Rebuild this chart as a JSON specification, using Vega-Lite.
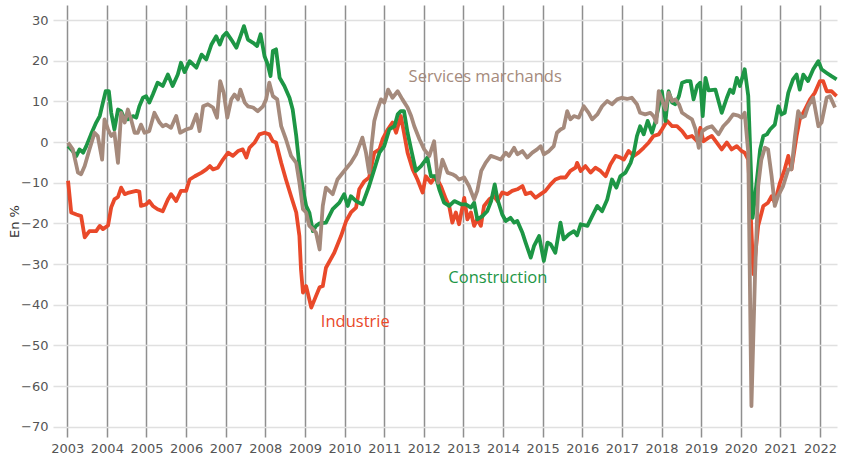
{
  "$schema": "https://vega.github.io/schema/vega-lite/v6.json",
  "width": 784,
  "height": 432,
  "autosize": {"type": "none"},
  "padding": {"left": 53, "top": 5, "right": 10, "bottom": 20},
  "background": "white",
  "config": {"view": {"stroke": null}, "font": "DejaVu Sans"},
  "datasets": {
    "industrie": [
      {"t":2003.02,"v":-9.5},{"t":2003.1,"v":-17.3},{"t":2003.23,"v":-17.8},{"t":2003.35,"v":-18.2},{"t":2003.44,"v":-23.4},{"t":2003.56,"v":-21.9},{"t":2003.73,"v":-21.9},{"t":2003.82,"v":-20.6},{"t":2003.9,"v":-21.4},{"t":2004.03,"v":-20.5},{"t":2004.11,"v":-16},{"t":2004.19,"v":-14.1},{"t":2004.28,"v":-13.5},{"t":2004.36,"v":-11.2},{"t":2004.45,"v":-12.8},{"t":2004.53,"v":-12.5},{"t":2004.61,"v":-12.3},{"t":2004.74,"v":-12},{"t":2004.82,"v":-12.2},{"t":2004.86,"v":-15.7},{"t":2004.99,"v":-15.3},{"t":2005.07,"v":-14.5},{"t":2005.16,"v":-15.7},{"t":2005.28,"v":-16.5},{"t":2005.41,"v":-17},{"t":2005.54,"v":-14.1},{"t":2005.62,"v":-12.8},{"t":2005.75,"v":-14.5},{"t":2005.87,"v":-12},{"t":2006.0,"v":-12},{"t":2006.09,"v":-9.2},{"t":2006.22,"v":-8.4},{"t":2006.39,"v":-7.5},{"t":2006.51,"v":-6.7},{"t":2006.6,"v":-5.9},{"t":2006.68,"v":-6.7},{"t":2006.8,"v":-6.3},{"t":2006.93,"v":-4.3},{"t":2007.06,"v":-2.6},{"t":2007.18,"v":-3.4},{"t":2007.31,"v":-2.2},{"t":2007.43,"v":-1.8},{"t":2007.52,"v":-3.8},{"t":2007.6,"v":-1.4},{"t":2007.73,"v":-0.1},{"t":2007.85,"v":1.9},{"t":2007.98,"v":2.3},{"t":2008.1,"v":1.9},{"t":2008.19,"v":0.2},{"t":2008.27,"v":-0.1},{"t":2008.4,"v":-5.1},{"t":2008.52,"v":-9.2},{"t":2008.65,"v":-13.3},{"t":2008.78,"v":-17.3},{"t":2008.86,"v":-23.1},{"t":2008.9,"v":-31.3},{"t":2008.95,"v":-37},{"t":2009.03,"v":-35.4},{"t":2009.16,"v":-40.7},{"t":2009.28,"v":-37.8},{"t":2009.37,"v":-35.7},{"t":2009.45,"v":-35.4},{"t":2009.53,"v":-30.9},{"t":2009.74,"v":-27.2},{"t":2009.91,"v":-23.1},{"t":2010.04,"v":-19.4},{"t":2010.16,"v":-17.3},{"t":2010.29,"v":-16.1},{"t":2010.37,"v":-11.6},{"t":2010.5,"v":-9.6},{"t":2010.62,"v":-8.7},{"t":2010.75,"v":-2.6},{"t":2010.88,"v":-1.8},{"t":2010.96,"v":0.7},{"t":2011.09,"v":3.1},{"t":2011.21,"v":4.8},{"t":2011.3,"v":2.3},{"t":2011.42,"v":6.4},{"t":2011.5,"v":2.3},{"t":2011.59,"v":-2.6},{"t":2011.72,"v":-6.7},{"t":2011.84,"v":-9.2},{"t":2011.97,"v":-12.4},{"t":2012.05,"v":-8.4},{"t":2012.18,"v":-10},{"t":2012.3,"v":-8.4},{"t":2012.43,"v":-10.8},{"t":2012.56,"v":-14.1},{"t":2012.64,"v":-15.7},{"t":2012.72,"v":-19.8},{"t":2012.81,"v":-17.3},{"t":2012.89,"v":-20.2},{"t":2013.02,"v":-13.7},{"t":2013.1,"v":-19},{"t":2013.19,"v":-17.3},{"t":2013.27,"v":-20.6},{"t":2013.35,"v":-19},{"t":2013.44,"v":-20.6},{"t":2013.52,"v":-15.7},{"t":2013.65,"v":-14.1},{"t":2013.77,"v":-13.3},{"t":2013.86,"v":-14.5},{"t":2013.98,"v":-12.4},{"t":2014.11,"v":-12.8},{"t":2014.23,"v":-12},{"t":2014.36,"v":-11.6},{"t":2014.49,"v":-10.8},{"t":2014.57,"v":-12.8},{"t":2014.7,"v":-12.4},{"t":2014.82,"v":-13.7},{"t":2014.95,"v":-12.8},{"t":2015.07,"v":-12},{"t":2015.2,"v":-10.4},{"t":2015.32,"v":-9.2},{"t":2015.45,"v":-8.7},{"t":2015.58,"v":-8.7},{"t":2015.7,"v":-7.1},{"t":2015.83,"v":-6.3},{"t":2015.87,"v":-5.1},{"t":2015.96,"v":-7.1},{"t":2016.08,"v":-5.9},{"t":2016.21,"v":-7.5},{"t":2016.33,"v":-6.3},{"t":2016.46,"v":-7.1},{"t":2016.59,"v":-8.4},{"t":2016.71,"v":-5.5},{"t":2016.84,"v":-3.4},{"t":2016.96,"v":-3.8},{"t":2017.05,"v":-4.3},{"t":2017.17,"v":-2.2},{"t":2017.3,"v":-3.4},{"t":2017.42,"v":-2.6},{"t":2017.55,"v":-1.4},{"t":2017.68,"v":-0.1},{"t":2017.8,"v":1.5},{"t":2017.93,"v":1.9},{"t":2018.01,"v":3.1},{"t":2018.14,"v":5.2},{"t":2018.27,"v":3.9},{"t":2018.39,"v":3.9},{"t":2018.52,"v":2.7},{"t":2018.64,"v":1.1},{"t":2018.77,"v":1.5},{"t":2018.9,"v":0.2},{"t":2018.98,"v":3.5},{"t":2019.06,"v":0.2},{"t":2019.19,"v":1.1},{"t":2019.27,"v":1.5},{"t":2019.39,"v":-0.1},{"t":2019.52,"v":-1.8},{"t":2019.65,"v":-0.1},{"t":2019.77,"v":-1.8},{"t":2019.9,"v":-1},{"t":2020.02,"v":-2.2},{"t":2020.1,"v":-2.6},{"t":2020.19,"v":-4.3},{"t":2020.32,"v":-32.5},{"t":2020.44,"v":-20.6},{"t":2020.57,"v":-15.7},{"t":2020.69,"v":-14.9},{"t":2020.78,"v":-13.3},{"t":2020.86,"v":-14.9},{"t":2020.99,"v":-10},{"t":2021.11,"v":-6.7},{"t":2021.2,"v":-3.4},{"t":2021.28,"v":-6.7},{"t":2021.41,"v":1.5},{"t":2021.49,"v":5.6},{"t":2021.62,"v":8},{"t":2021.75,"v":10.5},{"t":2021.87,"v":12.1},{"t":2022.0,"v":15},{"t":2022.08,"v":15},{"t":2022.17,"v":12.5},{"t":2022.29,"v":12.5},{"t":2022.42,"v":11.3}
    ],
    "construction": [
      {"t":2003.02,"v":-1},{"t":2003.1,"v":-1.8},{"t":2003.23,"v":-3.4},{"t":2003.31,"v":-1.8},{"t":2003.4,"v":-2.6},{"t":2003.48,"v":-1},{"t":2003.6,"v":1.9},{"t":2003.73,"v":4.8},{"t":2003.82,"v":6.4},{"t":2003.9,"v":9.7},{"t":2003.97,"v":12.5},{"t":2004.05,"v":12.5},{"t":2004.11,"v":7.2},{"t":2004.19,"v":3.1},{"t":2004.28,"v":8},{"t":2004.36,"v":7.6},{"t":2004.45,"v":5.6},{"t":2004.53,"v":5.6},{"t":2004.66,"v":6.4},{"t":2004.74,"v":6},{"t":2004.82,"v":8.8},{"t":2004.91,"v":10.9},{"t":2004.99,"v":11.3},{"t":2005.07,"v":9.7},{"t":2005.16,"v":11.7},{"t":2005.28,"v":14.6},{"t":2005.41,"v":13.8},{"t":2005.54,"v":16.6},{"t":2005.66,"v":13.8},{"t":2005.79,"v":16.6},{"t":2005.87,"v":19.5},{"t":2005.96,"v":17.2},{"t":2006.09,"v":19.9},{"t":2006.26,"v":18.3},{"t":2006.39,"v":21.5},{"t":2006.51,"v":20.3},{"t":2006.64,"v":24},{"t":2006.76,"v":26},{"t":2006.85,"v":24},{"t":2006.93,"v":26},{"t":2007.02,"v":26.9},{"t":2007.14,"v":25.2},{"t":2007.27,"v":23.2},{"t":2007.37,"v":26},{"t":2007.46,"v":28.5},{"t":2007.56,"v":25.2},{"t":2007.69,"v":24.4},{"t":2007.79,"v":23.6},{"t":2007.88,"v":26.5},{"t":2007.98,"v":21.1},{"t":2008.06,"v":19.1},{"t":2008.13,"v":16.2},{"t":2008.19,"v":22.4},{"t":2008.27,"v":22.8},{"t":2008.36,"v":15.8},{"t":2008.48,"v":13.8},{"t":2008.61,"v":10.9},{"t":2008.69,"v":8},{"t":2008.78,"v":1.5},{"t":2008.86,"v":-5.9},{"t":2008.95,"v":-11.6},{"t":2009.03,"v":-15.7},{"t":2009.11,"v":-17.3},{"t":2009.2,"v":-21.9},{"t":2009.28,"v":-20.6},{"t":2009.37,"v":-20},{"t":2009.53,"v":-19.8},{"t":2009.7,"v":-16.5},{"t":2009.87,"v":-14.9},{"t":2009.99,"v":-12.8},{"t":2010.08,"v":-15.7},{"t":2010.16,"v":-13.3},{"t":2010.29,"v":-14.5},{"t":2010.45,"v":-15.3},{"t":2010.62,"v":-10.8},{"t":2010.75,"v":-6.7},{"t":2010.88,"v":-2.6},{"t":2011.0,"v":-1},{"t":2011.13,"v":3.1},{"t":2011.26,"v":3.9},{"t":2011.34,"v":6.8},{"t":2011.42,"v":7.6},{"t":2011.5,"v":7.6},{"t":2011.59,"v":2.3},{"t":2011.68,"v":-1.8},{"t":2011.8,"v":-7.1},{"t":2011.93,"v":-5.9},{"t":2012.09,"v":-3.8},{"t":2012.18,"v":-8.4},{"t":2012.3,"v":-8.4},{"t":2012.39,"v":-11.6},{"t":2012.51,"v":-14.9},{"t":2012.64,"v":-15.7},{"t":2012.77,"v":-14.5},{"t":2012.94,"v":-15.3},{"t":2013.06,"v":-15.3},{"t":2013.19,"v":-16.1},{"t":2013.27,"v":-14.9},{"t":2013.35,"v":-19},{"t":2013.48,"v":-18.2},{"t":2013.6,"v":-17},{"t":2013.7,"v":-14.5},{"t":2013.79,"v":-10.4},{"t":2013.86,"v":-14.1},{"t":2013.98,"v":-17.8},{"t":2014.07,"v":-19.4},{"t":2014.19,"v":-18.6},{"t":2014.28,"v":-19.8},{"t":2014.36,"v":-19.4},{"t":2014.49,"v":-22.3},{"t":2014.57,"v":-24.7},{"t":2014.7,"v":-28.4},{"t":2014.78,"v":-25.6},{"t":2014.91,"v":-23.1},{"t":2015.03,"v":-29.2},{"t":2015.12,"v":-24.7},{"t":2015.2,"v":-25.1},{"t":2015.32,"v":-27.2},{"t":2015.45,"v":-19.8},{"t":2015.53,"v":-23.9},{"t":2015.66,"v":-22.7},{"t":2015.79,"v":-21.9},{"t":2015.87,"v":-22.9},{"t":2015.96,"v":-20.2},{"t":2016.13,"v":-20.6},{"t":2016.25,"v":-18.2},{"t":2016.38,"v":-15.7},{"t":2016.5,"v":-17},{"t":2016.63,"v":-14.1},{"t":2016.75,"v":-9.2},{"t":2016.86,"v":-11.2},{"t":2016.96,"v":-8.4},{"t":2017.09,"v":-7.5},{"t":2017.22,"v":-5.1},{"t":2017.3,"v":-2.6},{"t":2017.38,"v":1.5},{"t":2017.46,"v":3.9},{"t":2017.55,"v":1.9},{"t":2017.65,"v":5.2},{"t":2017.76,"v":2.3},{"t":2017.85,"v":5.2},{"t":2017.93,"v":8.8},{"t":2018.01,"v":12.5},{"t":2018.1,"v":5.2},{"t":2018.18,"v":12.5},{"t":2018.27,"v":9.7},{"t":2018.35,"v":9.3},{"t":2018.44,"v":11.3},{"t":2018.52,"v":14.6},{"t":2018.64,"v":15},{"t":2018.73,"v":15},{"t":2018.81,"v":10.5},{"t":2018.9,"v":13.8},{"t":2018.98,"v":14.6},{"t":2019.04,"v":6.4},{"t":2019.11,"v":15.8},{"t":2019.19,"v":12.7},{"t":2019.36,"v":12.9},{"t":2019.52,"v":7.2},{"t":2019.65,"v":10.9},{"t":2019.73,"v":12.9},{"t":2019.81,"v":12.1},{"t":2019.9,"v":15.8},{"t":2019.98,"v":13.8},{"t":2020.1,"v":17.9},{"t":2020.19,"v":11.3},{"t":2020.3,"v":-18.6},{"t":2020.4,"v":-10},{"t":2020.49,"v":-1.8},{"t":2020.57,"v":1.5},{"t":2020.66,"v":1.9},{"t":2020.74,"v":3.1},{"t":2020.86,"v":4.3},{"t":2020.95,"v":8.8},{"t":2021.03,"v":6.8},{"t":2021.11,"v":7.2},{"t":2021.2,"v":12.1},{"t":2021.32,"v":15.4},{"t":2021.41,"v":16.6},{"t":2021.49,"v":12.9},{"t":2021.58,"v":16.6},{"t":2021.7,"v":15},{"t":2021.83,"v":17.9},{"t":2021.96,"v":19.9},{"t":2022.04,"v":17.9},{"t":2022.17,"v":17},{"t":2022.29,"v":16.2},{"t":2022.42,"v":15.4}
    ],
    "services": [
      {"t":2003.02,"v":-0.1},{"t":2003.14,"v":-1.8},{"t":2003.27,"v":-7.5},{"t":2003.35,"v":-7.9},{"t":2003.44,"v":-5.9},{"t":2003.56,"v":-1.8},{"t":2003.69,"v":2.3},{"t":2003.77,"v":1.5},{"t":2003.88,"v":-4.3},{"t":2003.94,"v":5.6},{"t":2004.03,"v":3.1},{"t":2004.11,"v":1.5},{"t":2004.19,"v":2.3},{"t":2004.28,"v":-5.1},{"t":2004.36,"v":7.2},{"t":2004.45,"v":4.8},{"t":2004.53,"v":8},{"t":2004.61,"v":5.6},{"t":2004.7,"v":2.3},{"t":2004.78,"v":2.3},{"t":2004.86,"v":4.3},{"t":2004.95,"v":2.3},{"t":2005.07,"v":2.7},{"t":2005.2,"v":7.2},{"t":2005.33,"v":4.8},{"t":2005.41,"v":3.9},{"t":2005.49,"v":4.3},{"t":2005.62,"v":3.5},{"t":2005.75,"v":6.4},{"t":2005.85,"v":2.3},{"t":2006.0,"v":3.1},{"t":2006.13,"v":3.5},{"t":2006.26,"v":6.8},{"t":2006.34,"v":2.7},{"t":2006.43,"v":8.8},{"t":2006.55,"v":9.3},{"t":2006.68,"v":8.5},{"t":2006.78,"v":6},{"t":2006.86,"v":15},{"t":2006.95,"v":12.1},{"t":2007.04,"v":6},{"t":2007.14,"v":10.5},{"t":2007.22,"v":11.7},{"t":2007.31,"v":10.5},{"t":2007.37,"v":12.9},{"t":2007.48,"v":9.7},{"t":2007.56,"v":8.8},{"t":2007.69,"v":8.5},{"t":2007.81,"v":7.6},{"t":2007.94,"v":8.8},{"t":2008.02,"v":10.5},{"t":2008.1,"v":14.6},{"t":2008.19,"v":11.3},{"t":2008.3,"v":10.5},{"t":2008.4,"v":3.9},{"t":2008.52,"v":0.7},{"t":2008.65,"v":-3.4},{"t":2008.78,"v":-5.1},{"t":2008.86,"v":-10},{"t":2008.95,"v":-16.5},{"t":2009.03,"v":-17.3},{"t":2009.11,"v":-20.6},{"t":2009.2,"v":-21.4},{"t":2009.28,"v":-22.3},{"t":2009.37,"v":-26.4},{"t":2009.45,"v":-15.7},{"t":2009.53,"v":-11.2},{"t":2009.7,"v":-12.8},{"t":2009.82,"v":-9.2},{"t":2009.99,"v":-7.1},{"t":2010.16,"v":-5.1},{"t":2010.29,"v":-3},{"t":2010.37,"v":-1},{"t":2010.45,"v":1.1},{"t":2010.54,"v":-2.6},{"t":2010.62,"v":-7.5},{"t":2010.68,"v":-1},{"t":2010.75,"v":5.2},{"t":2010.83,"v":8},{"t":2010.92,"v":10.5},{"t":2011.0,"v":9.7},{"t":2011.1,"v":12.9},{"t":2011.21,"v":10.9},{"t":2011.34,"v":12.5},{"t":2011.46,"v":10.5},{"t":2011.59,"v":8.5},{"t":2011.68,"v":6.4},{"t":2011.76,"v":3.9},{"t":2011.89,"v":0.7},{"t":2012.01,"v":-1.8},{"t":2012.14,"v":-3.4},{"t":2012.26,"v":0.2},{"t":2012.36,"v":-10},{"t":2012.47,"v":-4.3},{"t":2012.6,"v":-7.5},{"t":2012.72,"v":-7.9},{"t":2012.81,"v":-8.4},{"t":2012.89,"v":-9.2},{"t":2013.02,"v":-8.7},{"t":2013.14,"v":-10.8},{"t":2013.27,"v":-14.1},{"t":2013.35,"v":-12},{"t":2013.45,"v":-7.1},{"t":2013.56,"v":-5.1},{"t":2013.69,"v":-3.4},{"t":2013.81,"v":-3.8},{"t":2013.94,"v":-4.3},{"t":2014.07,"v":-2.6},{"t":2014.15,"v":-3.4},{"t":2014.28,"v":-1.4},{"t":2014.36,"v":-3},{"t":2014.49,"v":-2.2},{"t":2014.61,"v":-3.8},{"t":2014.74,"v":-2.6},{"t":2014.86,"v":-1.8},{"t":2014.95,"v":-1},{"t":2015.03,"v":-3},{"t":2015.16,"v":-2.2},{"t":2015.28,"v":-1},{"t":2015.36,"v":2.3},{"t":2015.45,"v":3.1},{"t":2015.53,"v":3.5},{"t":2015.62,"v":7.6},{"t":2015.7,"v":5.6},{"t":2015.79,"v":6.4},{"t":2015.91,"v":6},{"t":2016.04,"v":8.8},{"t":2016.16,"v":7.2},{"t":2016.25,"v":5.6},{"t":2016.38,"v":6.8},{"t":2016.5,"v":8.8},{"t":2016.63,"v":10.1},{"t":2016.75,"v":9.3},{"t":2016.88,"v":10.5},{"t":2017.0,"v":10.9},{"t":2017.13,"v":10.6},{"t":2017.25,"v":10.9},{"t":2017.38,"v":9.3},{"t":2017.46,"v":7.2},{"t":2017.59,"v":6.8},{"t":2017.72,"v":7.2},{"t":2017.8,"v":6.4},{"t":2017.87,"v":4.8},{"t":2017.93,"v":12.5},{"t":2018.01,"v":10.5},{"t":2018.1,"v":8},{"t":2018.18,"v":12.1},{"t":2018.27,"v":10.1},{"t":2018.35,"v":10.5},{"t":2018.44,"v":9.3},{"t":2018.52,"v":7.2},{"t":2018.64,"v":6.4},{"t":2018.77,"v":5.6},{"t":2018.86,"v":3.1},{"t":2018.94,"v":-1.4},{"t":2019.03,"v":2.7},{"t":2019.15,"v":3.5},{"t":2019.27,"v":3.9},{"t":2019.44,"v":1.9},{"t":2019.56,"v":3.9},{"t":2019.69,"v":5.2},{"t":2019.81,"v":6.8},{"t":2019.94,"v":6.5},{"t":2020.02,"v":6},{"t":2020.1,"v":7.2},{"t":2020.19,"v":-2.6},{"t":2020.27,"v":-64.9},{"t":2020.36,"v":-32.9},{"t":2020.44,"v":-10.8},{"t":2020.52,"v":-4.3},{"t":2020.61,"v":-1.4},{"t":2020.69,"v":-1.8},{"t":2020.78,"v":-8.4},{"t":2020.86,"v":-15.7},{"t":2020.94,"v":-13.3},{"t":2021.07,"v":-10.8},{"t":2021.2,"v":-6.7},{"t":2021.28,"v":-6.7},{"t":2021.37,"v":1.5},{"t":2021.45,"v":7.6},{"t":2021.54,"v":6},{"t":2021.62,"v":6.4},{"t":2021.7,"v":8.8},{"t":2021.83,"v":10.9},{"t":2021.96,"v":3.9},{"t":2022.04,"v":4.8},{"t":2022.17,"v":10.9},{"t":2022.25,"v":11.3},{"t":2022.38,"v":8.5}
    ],
    "labels": [
      {"label":"Services marchands","t":2013.55,"v":16.1,"serie":"services"},
      {"label":"Construction","t":2013.87,"v":-33.5,"serie":"construction"},
      {"label":"Industrie","t":2010.27,"v":-44.3,"serie":"industrie"}
    ]
  },
  "encoding": {
    "x": {
      "field": "t", "type": "quantitative",
      "scale": {"domain": [2002.64, 2022.43], "nice": false, "zero": false},
      "axis": {
        "values": [2003,2004,2005,2006,2007,2008,2009,2010,2011,2012,2013,2014,2015,2016,2017,2018,2019,2020,2021,2022],
        "format": "d", "title": null, "domain": false, "ticks": false,
        "grid": true, "gridColor": "#8f8f8f", "gridWidth": 1.5,
        "labelFont": "DejaVu Sans", "labelFontSize": 13, "labelColor": "#555555", "labelPadding": 5,
        "labelFlush": false, "labelOverlap": false
      }
    },
    "y": {
      "field": "v", "type": "quantitative",
      "scale": {"domain": [-72.5, 33.7], "nice": false, "zero": false},
      "axis": {
        "values": [-70,-60,-50,-40,-30,-20,-10,0,10,20,30],
        "title": "En %", "titleFont": "DejaVu Sans", "titleFontSize": 13, "titleFontWeight": "normal", "titleColor": "#333333", "titlePadding": -1,
        "domain": false, "ticks": false,
        "grid": true, "gridColor": "#e0e0e0", "gridWidth": 1.5,
        "labelFont": "DejaVu Sans", "labelFontSize": 13, "labelColor": "#555555", "labelPadding": 5
      }
    }
  },
  "layer": [
    {"data": {"name": "industrie"}, "mark": {"type": "line", "color": "#e9492a", "strokeWidth": 3.8, "strokeJoin": "round"}},
    {"data": {"name": "construction"}, "mark": {"type": "line", "color": "#1d9645", "strokeWidth": 3.8, "strokeJoin": "round"}},
    {"data": {"name": "services"}, "mark": {"type": "line", "color": "#a58a7c", "strokeWidth": 3.8, "strokeJoin": "round"}},
    {
      "data": {"name": "labels"},
      "mark": {"type": "text", "font": "Open Sans", "fontSize": 16.5, "align": "center", "baseline": "middle"},
      "encoding": {
        "text": {"field": "label"},
        "color": {"field": "serie", "type": "nominal", "scale": {"domain": ["industrie","construction","services"], "range": ["#e9492a","#1d9645","#a58a7c"]}, "legend": null},
        "fontWeight": {"field": "serie", "type": "nominal", "scale": {"domain": ["industrie","construction","services"], "range": [500, 600, 400]}, "legend": null}
      }
    }
  ]
}
